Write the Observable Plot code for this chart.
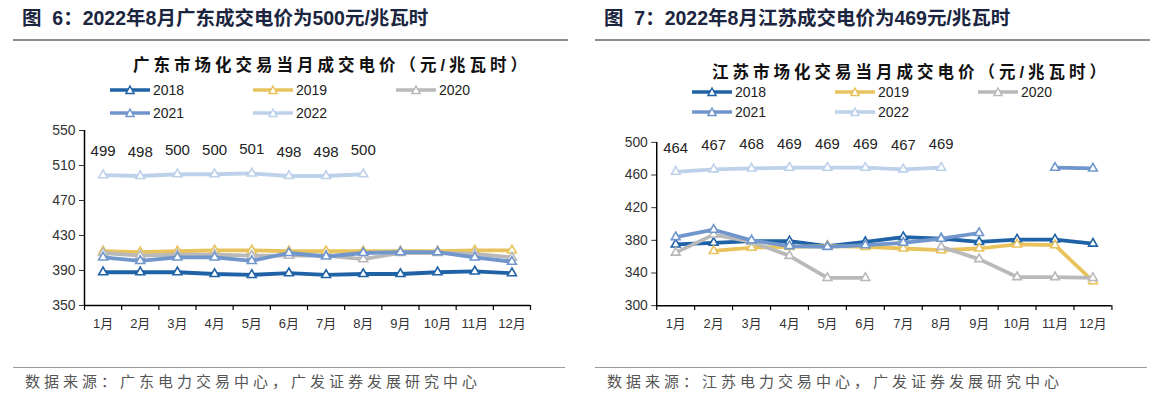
<!DOCTYPE html>
<html><head><meta charset="utf-8">
<script src="https://cdn.jsdelivr.net/npm/d3@7"></script>
<script src="https://cdn.jsdelivr.net/npm/@observablehq/plot@0.6"></script>
<style>
body{margin:0;background:#fff;font-family:"Liberation Sans","Noto Sans CJK SC",sans-serif;}
#root{position:relative;width:1152px;height:397px;overflow:hidden;background:#fff;}
.abs{position:absolute;}
.title{font-size:19.5px;font-weight:bold;color:#1b2540;white-space:nowrap;line-height:22px;}
.rule{height:0;border-top:2px solid #8c8c8c;}
.sub{font-size:16.5px;font-weight:bold;letter-spacing:4px;color:#111;white-space:nowrap;line-height:20px;}
.src{font-size:15px;color:#555;letter-spacing:4px;white-space:nowrap;line-height:18px;font-family:"Noto Sans CJK SC",sans-serif;}
.leg{font-size:14px;color:#222;display:flex;align-items:center;white-space:nowrap;line-height:16px;}
.leg svg{margin-right:3px;}
g[aria-label="y-axis"] text, g[aria-label="y-axis tick label"] text{font-size:14px;}
</style></head>
<body><div id="root"></div>
<script>
const months = [1,2,3,4,5,6,7,8,9,10,11,12];
const monthLabels = ["1月","2月","3月","4月","5月","6月","7月","8月","9月","10月","11月","12月"];
const years = ["2018","2019","2020","2021","2022"];
const colors = ["#1f62a5","#e8c35c","#b9b9b9","#7096cc","#bdd1eb"];

// 广东
const gd2018 = [388,388,388,386,385,387,385,386,386,388,389,387];
const gd2019 = [412,411,412,413,413,412,412,412,412,412,413,413];
const gd2020 = [410,407,408,408,407,407,407,403,410,410,409,405];
const gd2021 = [405,401,405,405,401,410,406,410,411,411,405,400];
const gd2022 = [499,498,500,500,501,498,498,500];
const gdTicks = [350,390,430,470,510,550];

// 江苏
const js2018 = [375,377,379,379,373,378,384,382,378,381,381,376];
const js2019 = [null,367,371,372,373,372,370,368,370,375,374,330];
const js2020 = [365,387,378,361,334,334,null,372,357,335,335,334];
const js2021 = [384,393,380,373,372,374,377,382,389,null,469,468];
const js2022 = [464,467,468,469,469,469,467,469];
const jsTicks = [300,340,380,420,460,500];

const root = document.getElementById("root");
function el(cls, style, html){
  const d = document.createElement("div");
  d.className = "abs " + cls;
  Object.assign(d.style, style);
  if (html != null) d.innerHTML = html;
  root.appendChild(d);
  return d;
}
function swatch(color){
  return `<svg width="40" height="12"><line x1="0" x2="40" y1="6" y2="6" stroke="${color}" stroke-width="3.5"/><path d="M20,2 L24,9.5 L16,9.5 Z" fill="#fff" stroke="${color}" stroke-width="1.5"/></svg>`;
}

function chart(series, ticks, opts){
  const marks = [];
  const yMin = ticks[0];
  const bounds = d3.range(0.5, 13, 1);
  marks.push(Plot.ruleY([yMin], {stroke:"#000", strokeWidth:1.5}));
  marks.push(Plot.ruleX([0.5], {y1: ticks[0], y2: ticks[ticks.length-1], stroke:"#000", strokeWidth:1.5}));
  marks.push(Plot.ruleX(bounds, {x: d => d, y1: yMin, y2: yMin, insetBottom: -5, stroke:"#000", strokeWidth:1.2}));
  years.forEach((yr, i) => {
    const vals = series[i];
    const rows = vals.map((v, j) => ({year: yr, month: months[j], value: v == null ? NaN : v}));
    marks.push(Plot.line(rows, {x:"month", y:"value", stroke: colors[i], strokeWidth: 3.8}));
    marks.push(Plot.dot(rows.filter(r => !isNaN(r.value)), {x:"month", y:"value", symbol:"triangle", r:3.3, fill:"#fff", stroke: colors[i], strokeWidth:1.6}));
  });
  const last = series[4].map((v, j) => ({month: months[j], value: v}));
  marks.push(Plot.text(last, {x:"month", y:"value", text: d => String(d.value), dy: -24, fontSize: 15, fill:"#222"}));
  return Plot.plot({
    width: 576, height: opts.height,
    marginLeft: opts.ml, marginRight: opts.mr, marginTop: opts.mt, marginBottom: opts.mb,
    x: {domain:[0.5,12.5], ticks: months, tickFormat: d => monthLabels[d-1], tickSize: 0, tickPadding: 13, label: null},
    y: {domain:[ticks[0], ticks[ticks.length-1]], ticks: ticks, tickSize: 5, tickPadding: 4, label: null},
    style: {fontSize: "13px", fontFamily: "'Liberation Sans','Noto Sans CJK SC',sans-serif", color: "#333", background: "transparent", overflow: "visible"},
    marks
  });
}

function panel(x0, cfg){
  el("title", {left: (x0+22)+"px", top: "7px"}, cfg.title);
  el("rule", {left: (x0+13)+"px", top: "39px", width: "555px"});
  el("sub", {left: (x0+cfg.subX)+"px", top: cfg.subY+"px"}, cfg.sub);
  const legPos = [[110,cfg.legY1,0],[253,cfg.legY1,1],[396,cfg.legY1,2],[110,cfg.legY2,3],[253,cfg.legY2,4]];
  legPos.forEach(([lx, ly, i]) => {
    el("leg", {left: (x0+lx)+"px", top: (ly-8)+"px"}, swatch(colors[i]) + years[i]);
  });
  const c = chart(cfg.series, cfg.ticks, cfg.plot);
  const holder = el("", {left: x0+"px", top: cfg.plotTop+"px"});
  holder.appendChild(c);
  el("rule", {left: (x0+13)+"px", top: "367px", width: "552px", borderTopWidth: "1.5px", borderTopColor: "#999"});
  el("src", {left: (x0+25)+"px", top: "372px"}, cfg.src);
}

panel(0, {
  title: "图&nbsp; 6：2022年8月广东成交电价为500元/兆瓦时",
  sub: "广东市场化交易当月成交电价（元/兆瓦时）",
  subX: 133, subY: 55, legY1: 90, legY2: 113,
  series: [gd2018, gd2019, gd2020, gd2021, gd2022], ticks: gdTicks,
  plotTop: 120, plot: {height: 220, ml: 84, mr: 46, mt: 10, mb: 35},
  src: "数据来源：广东电力交易中心，广发证券发展研究中心"
});
panel(582, {
  title: "图&nbsp; 7：2022年8月江苏成交电价为469元/兆瓦时",
  sub: "江苏市场化交易当月成交电价（元/兆瓦时）",
  subX: 130, subY: 62, legY1: 92, legY2: 112,
  series: [js2018, js2019, js2020, js2021, js2022], ticks: jsTicks,
  plotTop: 130, plot: {height: 212, ml: 75, mr: 41, mt: 12, mb: 35},
  src: "数据来源：江苏电力交易中心，广发证券发展研究中心"
});
</script>
</body></html>
